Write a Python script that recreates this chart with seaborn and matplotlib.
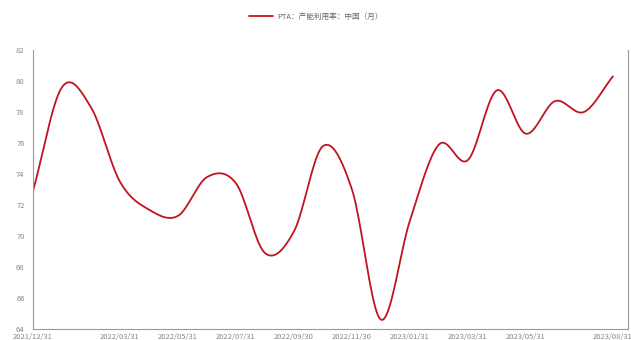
import numpy as np
import pandas as pd
import matplotlib
matplotlib.use("Agg")
import matplotlib.pyplot as plt
import seaborn as sns

# ========== 数据（月度）==========
dates = pd.date_range("2021-12-31", "2023-08-31", freq="ME")
values = [72.9, 79.6, 78.3, 73.5, 71.7, 71.3, 73.8, 73.4, 68.9, 70.3,
          75.8, 73.0, 64.6, 71.0, 75.9, 74.9, 79.4, 76.6, 78.7, 78.0, 80.3]
series_name = "PTA：产能利用率：中国（月）"
label_idx = [0, 3, 5, 7, 9, 11, 13, 15, 17, 20]
tick_idx = [2.5, 4.5, 6.5, 8.5, 10.5, 12.5, 14.5, 16.5, 18.5, 20.5]
yticks = list(range(64, 83, 2))

LINE_COLOR = "#C0141E"
GREY = "#9a9a9a"


def smooth(y, n=20):
    # Catmull-Rom 平滑，端点用反射点，起止段更陡
    y = np.asarray(y, dtype=float)
    p = np.concatenate([[2 * y[0] - y[1]], y, [2 * y[-1] - y[-2]]])
    xs, ys = [], []
    for i in range(len(y) - 1):
        p0, p1, p2, p3 = p[i], p[i + 1], p[i + 2], p[i + 3]
        t = np.linspace(0, 1, n, endpoint=False)
        seg = 0.5 * ((2 * p1) + (-p0 + p2) * t + (2 * p0 - 5 * p1 + 4 * p2 - p3) * t ** 2
                     + (-p0 + 3 * p1 - 3 * p2 + p3) * t ** 3)
        xs.append(i + t)
        ys.append(seg)
    xs.append([len(y) - 1])
    ys.append([y[-1]])
    return np.concatenate(xs), np.concatenate(ys)


sx, sy = smooth(values)
df = pd.DataFrame({"x": sx, "y": sy})

sns.set_style("white")
plt.rcParams["font.family"] = ["Noto Sans CJK SC", "DejaVu Sans"]

fig = plt.figure(figsize=(6.31, 3.40), dpi=100)
ax = fig.add_axes([33 / 631, 11 / 340, 595 / 631, 279 / 340])
sns.lineplot(data=df, x="x", y="y", ax=ax, color=LINE_COLOR, linewidth=1.3,
             label=series_name, legend=False)

ax.set_xlim(0, 20.52)
ax.set_ylim(64, 82)
ax.set_yticks(yticks)
ax.set_yticklabels([str(v) for v in yticks])
ax.set_xticks(label_idx)
ax.set_xticklabels([dates[i].strftime("%Y/%m/%d") for i in label_idx])
ax.set_xticks(tick_idx, minor=True)
ax.tick_params(axis="x", which="major", length=0, pad=3, labelsize=5.5, labelcolor="#888888")
ax.tick_params(axis="x", which="minor", length=4, color=GREY, width=0.6)
ax.tick_params(axis="y", length=4, color=GREY, width=0.6, labelsize=5.5,
               labelcolor="#888888", pad=2)
ax.set_xlabel("")
ax.set_ylabel("")

for side in ["left", "bottom", "right"]:
    ax.spines[side].set_visible(True)
    ax.spines[side].set_color(GREY)
    ax.spines[side].set_linewidth(0.8)
ax.spines["top"].set_visible(False)

handles, labels = ax.get_legend_handles_labels()
fig.legend(handles, labels, loc="center", bbox_to_anchor=(0.5, 1 - 16.5 / 340),
           frameon=False, fontsize=5.5, handlelength=3.2, handletextpad=0.5,
           labelcolor="#666666")

fig.savefig("out.png", dpi=100)
